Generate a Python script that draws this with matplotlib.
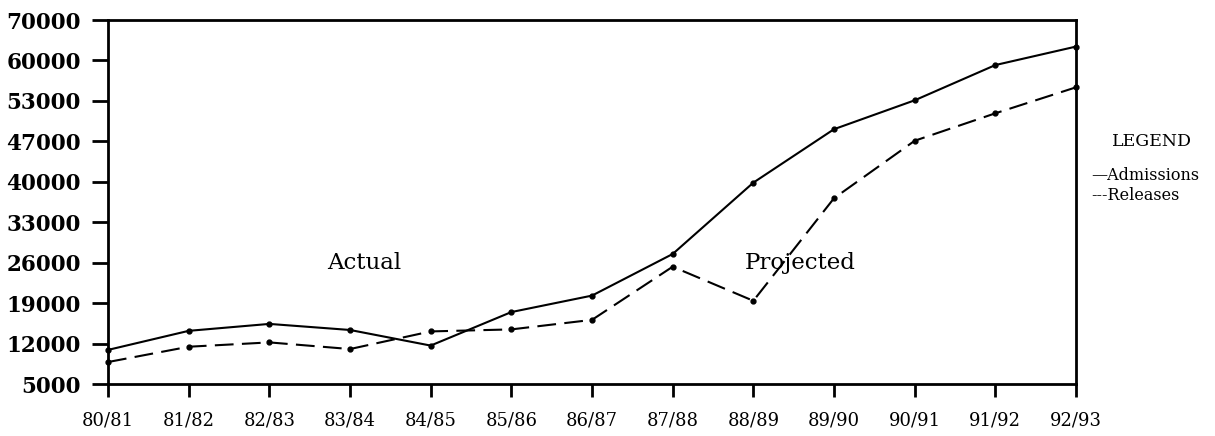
import matplotlib
matplotlib.use("Agg")
import matplotlib.pyplot as plt

years = ["80/81", "81/82", "82/83", "83/84", "84/85", "85/86", "86/87",
         "87/88", "88/89", "89/90", "90/91", "91/92", "92/93"]
admissions = [10900, 14200, 15400, 14350, 11650, 17450, 20300,
              27500, 39850, 49100, 54100, 60200, 63400]
releases = [8800, 11450, 12200, 11050, 14100, 14450, 16100,
            25300, 19400, 37150, 47100, 51850, 56350]
ytick_values = [5000, 12000, 19000, 26000, 33000, 40000, 47000, 54000, 61000, 68000]
ytick_labels = ["5000", "12000", "19000", "26000", "33000", "40000",
                "47000", "53000", "60000", "70000"]

fig = plt.figure(figsize=(12.15, 4.36), dpi=100)
ax = fig.add_axes([108/1215, 52/436, (1076-108)/1215, (384-20)/436])

x = list(range(len(years)))
ax.plot(x, admissions, color="black", lw=1.5, marker="o", ms=3.5, clip_on=False)
ax.plot(x, releases, color="black", lw=1.5, marker="o", ms=3.5,
        dashes=(9, 4), clip_on=False)

ax.set_xlim(0, len(years) - 1)
ax.set_ylim(ytick_values[0], ytick_values[-1])
ax.set_xticks(x)
ax.set_xticklabels(years)
ax.set_yticks(ytick_values)
ax.set_yticklabels(ytick_labels)

for s in ax.spines.values():
    s.set_linewidth(2)
ax.tick_params(axis="y", direction="out", length=11.5, width=2, pad=8,
               labelsize=15.5)
ax.tick_params(axis="x", direction="out", length=9.5, width=2, pad=10,
               labelsize=13)
for lab in ax.get_yticklabels():
    lab.set_fontfamily("DejaVu Serif")
    lab.set_fontweight("bold")
for lab in ax.get_xticklabels():
    lab.set_fontfamily("DejaVu Serif")

ax.text(3.18, 26000, "Actual", family="DejaVu Serif", fontsize=16.5,
        ha="center", va="center")
ax.text(8.58, 26000, "Projected", family="DejaVu Serif", fontsize=16.5,
        ha="center", va="center")

fig.text(1152/1215, 1 - 142/436, "LEGEND", family="DejaVu Serif", fontsize=12.5,
         ha="center", va="center")
fig.text(1091/1215, 1 - 175/436, "\u2014Admissions", family="DejaVu Serif",
         fontsize=11.5, ha="left", va="center")
fig.text(1091/1215, 1 - 196/436, "---Releases", family="DejaVu Serif",
         fontsize=11.5, ha="left", va="center")

fig.savefig("out.png", dpi=100)
